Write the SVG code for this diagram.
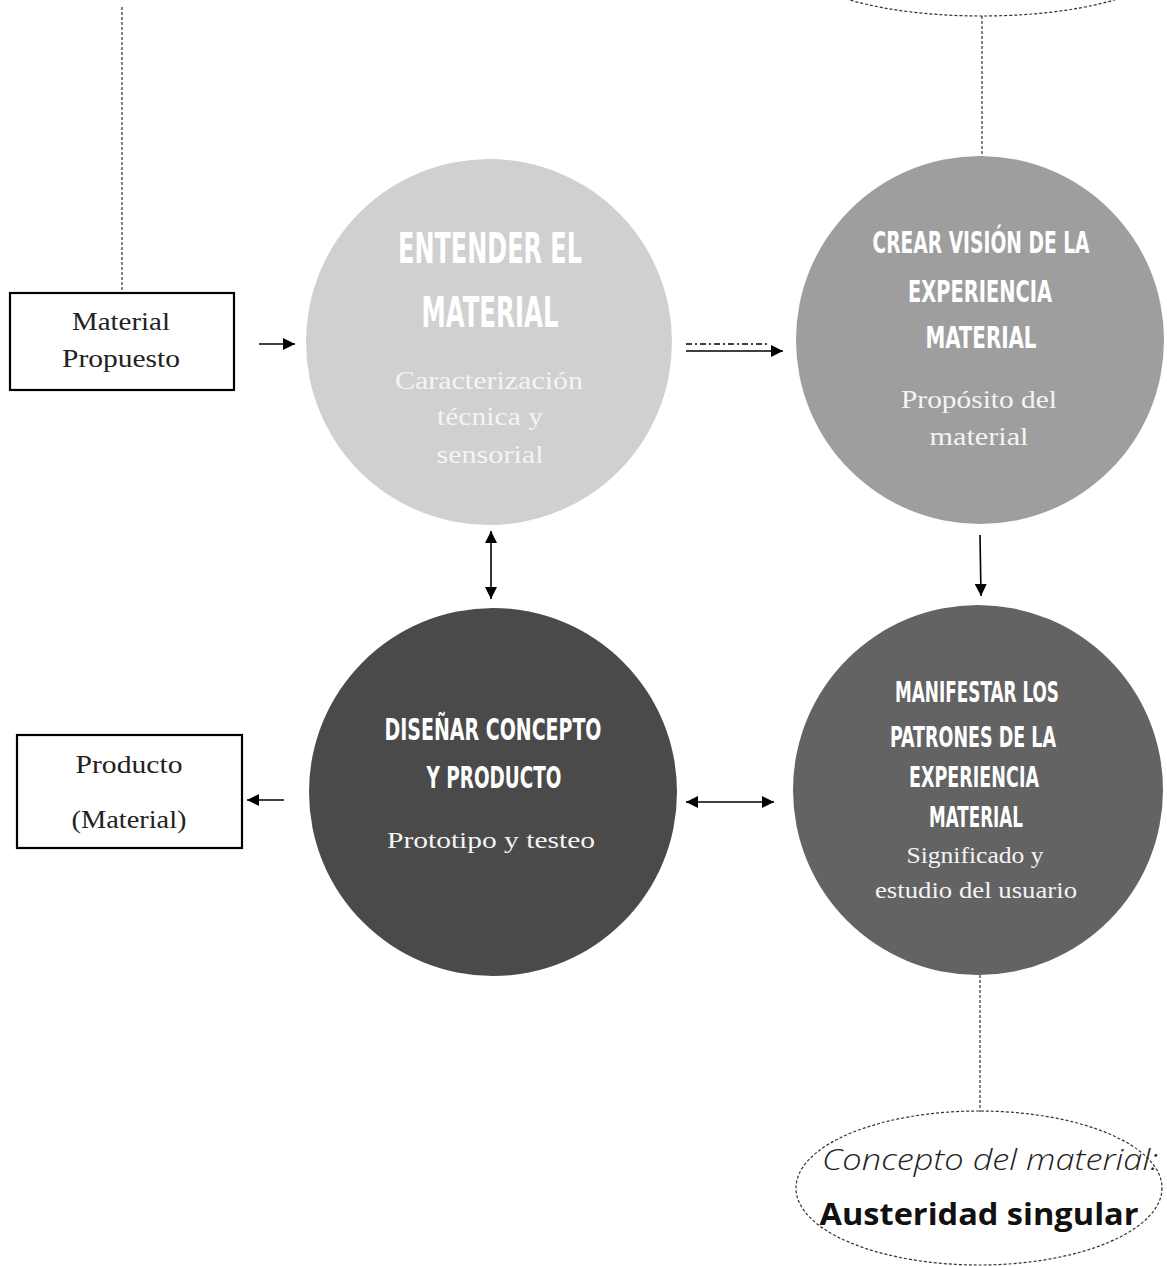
<svg xmlns="http://www.w3.org/2000/svg" width="1167" height="1266" viewBox="0 0 1167 1266">
  <defs>
    <marker id="arrow" viewBox="0 0 12 12" refX="12" refY="6" markerWidth="12" markerHeight="12" markerUnits="userSpaceOnUse" orient="auto-start-reverse">
      <path d="M0,0 L12,6 L0,12 z" fill="#000"/>
    </marker>
    <style>
      .head { font-family: "Liberation Sans Narrow", "DejaVu Sans Condensed", "Liberation Sans", sans-serif; font-weight: bold; fill: #ffffff; text-anchor: middle; }
      .sub { font-family: "Liberation Serif", "DejaVu Serif", serif; text-anchor: middle; }
      .box { fill: #ffffff; stroke: #000; stroke-width: 2.2; }
      .boxtxt { font-family: "Liberation Serif", "DejaVu Serif", serif; font-size: 25px; fill: #222; text-anchor: middle; }
      .dotted { fill: none; stroke: #333; stroke-width: 1.2; stroke-dasharray: 3 2; }
      .conn { stroke: #000; stroke-width: 1.6; fill: none; }
    </style>
  </defs>
  <rect width="1167" height="1266" fill="#ffffff"/>

  <!-- connectors -->
  <g id="connectors">
    <line class="dotted" x1="122" y1="7" x2="122" y2="293"/>
    <line class="dotted" x1="982" y1="16" x2="982" y2="157"/>
    <line class="dotted" x1="980" y1="975" x2="980" y2="1112"/>
    <line class="conn" x1="259" y1="344" x2="295" y2="344" marker-end="url(#arrow)"/>
    <line x1="686" y1="344" x2="768" y2="344" stroke="#000" stroke-width="1.3" stroke-dasharray="6 3 2 3"/>
    <line class="conn" x1="686" y1="351" x2="783" y2="351" marker-end="url(#arrow)"/>
    <line class="conn" x1="491" y1="531" x2="491" y2="599" marker-start="url(#arrow)" marker-end="url(#arrow)"/>
    <line class="conn" x1="980" y1="535" x2="981" y2="596" marker-end="url(#arrow)"/>
    <line class="conn" x1="686" y1="802" x2="774" y2="802" marker-start="url(#arrow)" marker-end="url(#arrow)"/>
    <line class="conn" x1="284" y1="800" x2="247" y2="800" marker-end="url(#arrow)"/>
  </g>

  <!-- top concept ellipse (cut by the page edge) -->
  <g id="top-ellipse">
    <ellipse class="dotted" cx="982" cy="-34" rx="180" ry="50"/>
  </g>

  <!-- input box -->
  <g id="material-propuesto">
    <rect class="box" x="10" y="293" width="224" height="97"/>
    <text class="boxtxt" x="121" y="330" textLength="98" lengthAdjust="spacingAndGlyphs">Material</text>
    <text class="boxtxt" x="121" y="367" textLength="118" lengthAdjust="spacingAndGlyphs">Propuesto</text>
  </g>

  <!-- output box -->
  <g id="producto">
    <rect class="box" x="17" y="735" width="225" height="113"/>
    <text class="boxtxt" x="129" y="773" textLength="107" lengthAdjust="spacingAndGlyphs">Producto</text>
    <text class="boxtxt" x="129" y="828" textLength="115" lengthAdjust="spacingAndGlyphs">(Material)</text>
  </g>

  <!-- step 1 -->
  <g id="entender">
    <circle cx="489" cy="342" r="183" fill="#d0d0d0"/>
    <text class="head" x="490" y="263" font-size="43" textLength="184" lengthAdjust="spacingAndGlyphs">ENTENDER EL</text>
    <text class="head" x="490" y="327" font-size="43" textLength="137" lengthAdjust="spacingAndGlyphs">MATERIAL</text>
    <g class="sub" font-size="25" fill="#f4f4f4">
      <text x="489" y="389" textLength="188" lengthAdjust="spacingAndGlyphs">Caracterización</text>
      <text x="490" y="425" textLength="106" lengthAdjust="spacingAndGlyphs">técnica y</text>
      <text x="490" y="463" textLength="107" lengthAdjust="spacingAndGlyphs">sensorial</text>
    </g>
  </g>

  <!-- step 2 -->
  <g id="crear-vision">
    <circle cx="980" cy="340" r="184" fill="#9e9e9e"/>
    <text class="head" x="981" y="253" font-size="31" textLength="217" lengthAdjust="spacingAndGlyphs">CREAR VISIÓN DE LA</text>
    <text class="head" x="980" y="302" font-size="31" textLength="144" lengthAdjust="spacingAndGlyphs">EXPERIENCIA</text>
    <text class="head" x="981" y="348" font-size="31" textLength="111" lengthAdjust="spacingAndGlyphs">MATERIAL</text>
    <g class="sub" font-size="25" fill="#f4f4f4">
      <text x="979" y="408" textLength="156" lengthAdjust="spacingAndGlyphs">Propósito del</text>
      <text x="979" y="445" textLength="99" lengthAdjust="spacingAndGlyphs">material</text>
    </g>
  </g>

  <!-- step 3 -->
  <g id="manifestar">
    <circle cx="978" cy="790" r="185" fill="#636363"/>
    <text class="head" x="977" y="702" font-size="28" textLength="164" lengthAdjust="spacingAndGlyphs">MANIFESTAR LOS</text>
    <text class="head" x="973" y="747" font-size="28" textLength="166" lengthAdjust="spacingAndGlyphs">PATRONES DE LA</text>
    <text class="head" x="974" y="787" font-size="28" textLength="130" lengthAdjust="spacingAndGlyphs">EXPERIENCIA</text>
    <text class="head" x="976" y="827" font-size="28" textLength="94" lengthAdjust="spacingAndGlyphs">MATERIAL</text>
    <g class="sub" font-size="23" fill="#f4f4f4">
      <text x="975" y="863" textLength="137" lengthAdjust="spacingAndGlyphs">Significado y</text>
      <text x="976" y="898" textLength="202" lengthAdjust="spacingAndGlyphs">estudio del usuario</text>
    </g>
  </g>

  <!-- step 4 -->
  <g id="disenar">
    <circle cx="493" cy="792" r="184" fill="#4a4a4a"/>
    <text class="head" x="493" y="740" font-size="31" textLength="217" lengthAdjust="spacingAndGlyphs">DISEÑAR CONCEPTO</text>
    <text class="head" x="494" y="788" font-size="31" textLength="135" lengthAdjust="spacingAndGlyphs">Y PRODUCTO</text>
    <text class="sub" x="491" y="848" font-size="24" fill="#f4f4f4" textLength="208" lengthAdjust="spacingAndGlyphs">Prototipo y testeo</text>
  </g>

  <!-- material concept -->
  <g id="concepto">
    <ellipse class="dotted" cx="979" cy="1188" rx="183" ry="77" stroke-width="1"/>
    <text x="990" y="1170" font-family="'Open Sans', 'Liberation Sans', sans-serif" font-style="italic" font-weight="300" font-size="30" fill="#222" text-anchor="middle" textLength="336" lengthAdjust="spacingAndGlyphs">Concepto del material:</text>
    <text x="979" y="1225" font-family="'Open Sans', 'Liberation Sans', sans-serif" font-weight="bold" font-size="30" fill="#111" text-anchor="middle" textLength="319" lengthAdjust="spacingAndGlyphs">Austeridad singular</text>
  </g>
</svg>
